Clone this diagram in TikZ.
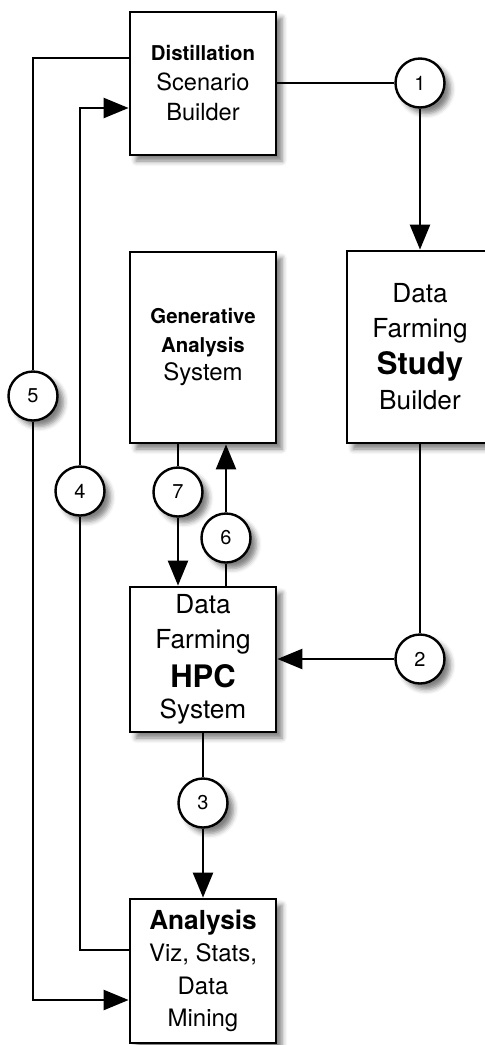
\documentclass[tikz,border=0pt]{standalone}
\usepackage{fontspec}
\setmainfont{TeX Gyre Heros}
\usetikzlibrary{arrows.meta,shadows.blur}
\tikzset{
  shd/.style   ={blur shadow={shadow xshift=3pt,shadow yshift=-3pt,
                 shadow blur radius=2.5pt,shadow opacity=50}},
  blk/.style   ={draw=black,line width=1.4pt,fill=white,minimum width=73pt,
                 inner sep=0pt,align=center,shd},
  num/.style   ={circle,draw=black,line width=1.2pt,fill=white,minimum size=24.5pt,
                 inner sep=0pt,font=\fontsize{10}{12}\selectfont,shd},
  ln/.style    ={draw=black,line width=1.2pt},
  ar/.style    ={->,ln},
}
\newcommand{\smb}{\fontsize{10.2}{11}\selectfont\bfseries}
\newcommand{\lgb}{\fontsize{15.5}{17}\selectfont\bfseries}

\begin{document}
\begin{tikzpicture}[
  >={Triangle[length=12.5pt,width=10pt]},
  x=0.5pt, y=-0.5pt,
]
\useasboundingbox (0,0) rectangle (484,1045);

%% ---------------- boxes ----------------
\node[blk,minimum height=71.5pt,font=\fontsize{11.8}{15}\selectfont] (dist) at (203, 83.5)
  {{\smb Distillation}\\Scenario\\Builder};
\node[blk,minimum height=95.5pt,font=\fontsize{12}{14.25}\selectfont] (gen) at (203,347.5)
  {{\smb Generative}\\{\smb Analysis}\\System};
\node[blk,minimum height=96pt,font=\fontsize{13.1}{17.5}\selectfont] (study) at (420,347)
  {Data\\Farming\\[1pt]{\lgb Study}\\Builder};
\node[blk,minimum height=72.5pt,font=\fontsize{13.1}{17.5}\selectfont] (hpc) at (203,659.5)
  {Data\\Farming\\[2pt]{\lgb HPC}\\[-2pt]System};
\node[blk,minimum height=72pt,font=\fontsize{12}{16.25}\selectfont] (ana) at (203,971)
  {{\fontsize{13.1}{14}\selectfont\bfseries Analysis}\\Viz, Stats,\\Data\\Mining};

%% ---------------- numbered steps ----------------
\node[num] (c1) at (420, 83) {1};
\node[num] (c2) at (420,659) {2};
\node[num] (c3) at (203,803) {3};
\node[num] (c4) at ( 80,491) {4};
\node[num] (c5) at ( 33,396) {5};
\node[num] (c6) at (226,538) {6};
\node[num] (c7) at (178,492) {7};

%% ---------------- connectors ----------------
\draw[ln] (dist.east |- c1) -- (c1);
\draw[ar] (c1) -- (study);
\draw[ln] (study) -- (c2);
\draw[ar] (c2) -- (hpc.east |- c2);
\draw[ln] (hpc) -- (c3);
\draw[ar] (c3) -- (ana);

%% loop with the generative analysis system
\draw[ln] (gen.south -| c7) -- (c7);
\draw[ar] (c7) -- (hpc.north -| c7);
\draw[ln] (hpc.north -| c6) -- (c6);
\draw[ar] (c6) -- (gen.south -| c6);

%% feedback along the left side
\draw[ln] ([yshift=12.75pt]dist.west) -| (c5);
\draw[ar] (c5) |- ([yshift=-14.5pt]ana.west);
\draw[ln] ([yshift=10.5pt]ana.west) -| (c4);
\draw[ar] (c4) |- ([yshift=-12.25pt]dist.west);

\end{tikzpicture}
\end{document}
